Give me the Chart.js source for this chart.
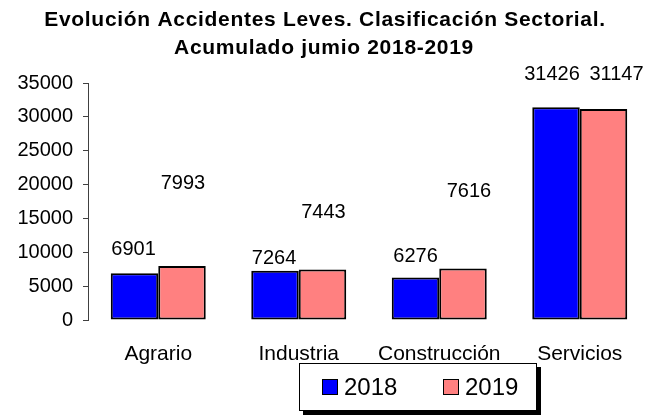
<!DOCTYPE html>
<html>
<head>
<meta charset="utf-8">
<script src="https://cdn.jsdelivr.net/npm/chart.js@4"></script>
<style>
  html, body { margin: 0; padding: 0; background: #fff; }
  .chart-box { width: 650px; height: 415px; position: relative; }
</style>
</head>
<body>
<div class="chart-box"><canvas id="chart"></canvas></div>
<script>
// datos
const categories = ["Agrario", "Industria", "Construcción", "Servicios"];
const seriesNames = ["2018", "2019"];
const values2018 = [6901, 7264, 6276, 31426];
const values2019 = [7993, 7443, 7616, 31147];
const yMin = 0, yMax = 35000, yStep = 5000;
const titleLines = ["Evolución Accidentes Leves. Clasificación Sectorial.", "Acumulado jumio 2018-2019"];

// etiquetas colocadas a mano en el original (px sobre la barra / desplazamiento x)
const labelLift = [[18, 7, 16, 27], [77, 52, 71, 29]];
const labelShift = [[-1, -1, 0, -4], [1, 1, 6, 13]];

const FONT = "'Liberation Sans', Arial, sans-serif";

const titlePlugin = {
  id: "titleDraw",
  afterDraw(chart) {
    const ctx = chart.ctx;
    ctx.save();
    ctx.fillStyle = "#000";
    ctx.font = "bold 21px " + FONT;
    ctx.letterSpacing = "0.7px";
    ctx.textAlign = "center";
    ctx.textBaseline = "alphabetic";
    ctx.fillText(titleLines[0], 325, 26);
    ctx.fillText(titleLines[1], 324, 54);
    ctx.restore();
  }
};

const valueLabels = {
  id: "valueLabels",
  afterDatasetsDraw(chart) {
    const ctx = chart.ctx;
    ctx.save();
    ctx.fillStyle = "#000";
    ctx.font = "20px " + FONT;
    ctx.textAlign = "center";
    ctx.textBaseline = "alphabetic";
    chart.data.datasets.forEach((ds, di) => {
      chart.getDatasetMeta(di).data.forEach((bar, i) => {
        ctx.fillText(String(ds.data[i]), bar.x + labelShift[di][i], bar.y - labelLift[di][i]);
      });
    });
    ctx.restore();
  }
};

const boxLegend = {
  id: "boxLegend",
  afterDraw(chart) {
    const ctx = chart.ctx;
    const x = 299, y = 363, w = 238, h = 48;
    ctx.save();
    ctx.fillStyle = "#000";
    ctx.fillRect(x + 4, y + 4, w, h);
    ctx.fillStyle = "#fff";
    ctx.fillRect(x, y, w, h);
    ctx.strokeStyle = "#000";
    ctx.lineWidth = 1;
    ctx.strokeRect(x + 0.5, y + 0.5, w - 1, h - 1);
    ctx.font = "24px " + FONT;
    ctx.textBaseline = "middle";
    ctx.textAlign = "left";
    chart.data.datasets.forEach((ds, i) => {
      const sx = x + 23 + i * 121;
      ctx.fillStyle = ds.backgroundColor;
      ctx.fillRect(sx, y + 16, 16, 16);
      ctx.strokeStyle = "#000";
      ctx.strokeRect(sx + 0.5, y + 16.5, 15, 15);
      ctx.fillStyle = "#000";
      ctx.fillText(ds.label, sx + 22, y + 25);
    });
    ctx.restore();
  }
};

new Chart(document.getElementById("chart"), {
  type: "bar",
  data: {
    labels: categories,
    datasets: [
      { label: seriesNames[0], data: values2018, backgroundColor: "#0000FF" },
      { label: seriesNames[1], data: values2019, backgroundColor: "#FF8080" }
    ]
  },
  options: {
    responsive: true,
    maintainAspectRatio: false,
    animation: false,
    devicePixelRatio: 1,
    layout: { padding: { top: 83, left: 0, right: 0, bottom: 0 } },
    datasets: {
      bar: {
        barPercentage: 1,
        categoryPercentage: 0.676,
        borderColor: "#000",
        borderWidth: 2,
        borderSkipped: false
      }
    },
    plugins: {
      legend: { display: false },
      title: { display: false },
      tooltip: { enabled: false }
    },
    scales: {
      x: {
        grid: { display: false, drawTicks: false },
        border: { display: false },
        ticks: { color: "#000", font: { family: FONT, size: 21 }, padding: 22, maxRotation: 0 },
        afterFit(scale) { scale.height = 95; }
      },
      y: {
        min: yMin,
        max: yMax,
        grid: { display: true, drawOnChartArea: false, drawTicks: true, tickLength: 5, color: "#404040" },
        border: { display: true, color: "#404040", width: 1 },
        ticks: {
          stepSize: yStep, color: "#000", font: { family: FONT, size: 20 }, padding: 10,
          callback: (v) => String(v)
        },
        afterFit(scale) { scale.width = 88; }
      }
    }
  },
  plugins: [valueLabels, titlePlugin, boxLegend]
});
</script>
</body>
</html>
